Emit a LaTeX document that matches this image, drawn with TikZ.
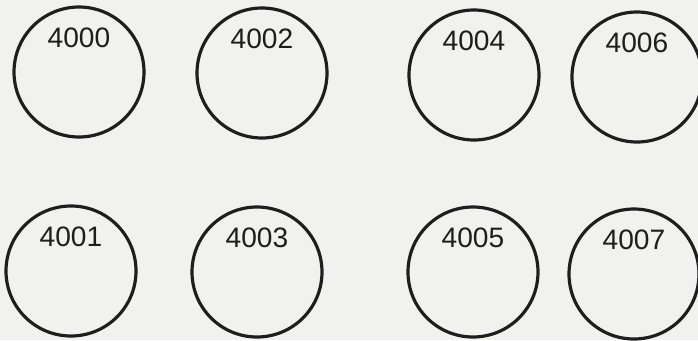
\documentclass[tikz,border=0pt]{standalone}
\usepackage{fontspec}
\setmainfont{Liberation Sans}
\usepackage{tikz}

\definecolor{paper}{RGB}{241,241,240}
\definecolor{ink}{RGB}{30,30,30}

\begin{document}
\begin{tikzpicture}[
   sensor/.style={circle,draw=ink,line width=1.8pt,minimum size=2.6cm,
      inner sep=0pt},
   tag/.style={font=\fontsize{16}{16}\selectfont,text=ink,inner sep=0pt}
]
   \fill[paper] (0,0) rectangle (13.96,6.8);
   \useasboundingbox (0,0) rectangle (13.96,6.8);

   % top row
   \node[sensor] (s4000) at (1.58,5.36) {};
   \node[sensor] (s4002) at (5.24,5.34) {};
   \node[sensor] (s4004) at (9.48,5.30) {};
   \node[sensor] (s4006) at (12.74,5.26) {};

   % bottom row
   \node[sensor] (s4001) at (1.42,1.38) {};
   \node[sensor] (s4003) at (5.14,1.36) {};
   \node[sensor] (s4005) at (9.46,1.36) {};
   \node[sensor] (s4007) at (12.68,1.32) {};

   \foreach \x in {4000,4001,4002,4003,4004,4005,4006,4007} {
      \node[tag] (t\x) at ([yshift=0.68cm]s\x.center) {\x};
   }
\end{tikzpicture}
\end{document}
